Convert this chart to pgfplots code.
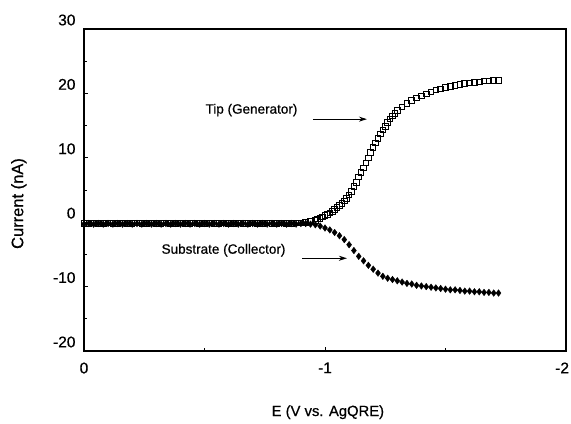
\documentclass[border=0pt]{standalone}
\usepackage{pgfplots}
\pgfplotsset{compat=1.18}
\usepackage{fontspec}
\setmainfont{Liberation Sans}
\newfontfamily\darkfont[FakeBold=0.6]{Liberation Sans}
\usetikzlibrary{arrows.meta}
\begin{document}
\begin{tikzpicture}[x=1pt,y=1pt]
\begin{axis}[
  name=ax,
  at={(0,0)}, anchor=south west,
  scale only axis, width=482pt, height=322pt,
  xmin=-2, xmax=0, x dir=reverse,
  ymin=-20, ymax=30,
  xtick={0,-1,-2}, xticklabels={0,-1,\makebox[6pt][r]{-2}},
  minor xtick={-0.5,-1.5},
  ytick={-20,-10,0,10,20,30}, minor ytick={-15,-5,5,15,25},
  tick pos=left, tick align=inside,
  major tick length=4pt, minor tick length=3pt,
  axis line style={line width=1.1pt},
  every tick/.style={line width=0.9pt, black},
  /pgf/number format/assume math mode=true,
  xticklabel style={font=\darkfont\fontsize{15.5}{18}\selectfont, yshift=-8pt},
  yticklabel style={font=\darkfont\fontsize{15.5}{18}\selectfont, xshift=-5pt, yshift=9pt},
  xlabel={E (V vs. AgQRE)},
  ylabel={Current (nA)},
  xlabel style={font=\darkfont\fontsize{14.8}{17}\selectfont, at={(axis description cs:0.506,-0.19)}, anchor=center},
  ylabel style={font=\darkfont\fontsize{16.5}{19}\selectfont, at={(axis description cs:-0.135,0.458)}, anchor=center},
  clip=false,
]
% Tip (Generator)
\addplot[only marks, mark=square, mark size=2.8pt, mark options={line width=1pt, black, fill=white}] coordinates {
(0.00,-0.2) (-0.02,-0.2) (-0.04,-0.1) (-0.06,-0.2) (-0.08,-0.2) (-0.10,-0.1) (-0.12,-0.2) (-0.14,-0.2)
(-0.16,-0.1) (-0.18,-0.2) (-0.20,-0.2) (-0.22,-0.1) (-0.24,-0.2) (-0.26,-0.2) (-0.28,-0.1) (-0.30,-0.2)
(-0.32,-0.2) (-0.34,-0.1) (-0.36,-0.2) (-0.38,-0.2) (-0.40,-0.1) (-0.42,-0.2) (-0.44,-0.2) (-0.46,-0.1)
(-0.48,-0.2) (-0.50,-0.2) (-0.52,-0.1) (-0.54,-0.2) (-0.56,-0.2) (-0.58,-0.1) (-0.60,-0.2) (-0.62,-0.2)
(-0.64,-0.1) (-0.66,-0.2) (-0.68,-0.2) (-0.70,-0.1) (-0.72,-0.2) (-0.74,-0.2) (-0.76,-0.1) (-0.78,-0.2)
(-0.80,-0.2) (-0.82,-0.1) (-0.84,-0.2) (-0.86,-0.2) (-0.88,-0.1) (-0.90,-0.1)
(-0.92,0.0) (-0.94,0.1) (-0.96,0.3) (-0.97,0.5) (-0.98,0.6) (-0.99,0.8) (-1.00,1.0) (-1.01,1.2)
(-1.02,1.4) (-1.03,1.7) (-1.04,2.0) (-1.05,2.3) (-1.06,2.6) (-1.07,2.9) (-1.08,3.3) (-1.09,3.7)
(-1.10,4.2) (-1.11,4.8) (-1.12,5.5) (-1.13,6.2) (-1.14,7.0) (-1.15,7.7) (-1.16,8.4) (-1.17,9.2)
(-1.18,10.0) (-1.19,10.8) (-1.20,11.6) (-1.21,12.3) (-1.22,13.0) (-1.23,13.7) (-1.24,14.3) (-1.25,14.9)
(-1.26,15.5) (-1.27,16.0) (-1.28,16.5) (-1.29,16.9) (-1.30,17.3) (-1.32,17.9) (-1.34,18.4) (-1.36,18.9)
(-1.38,19.3) (-1.40,19.6) (-1.42,19.9) (-1.44,20.2) (-1.46,20.5) (-1.48,20.7) (-1.50,20.9) (-1.52,21.1)
(-1.54,21.2) (-1.56,21.4) (-1.58,21.5) (-1.60,21.6) (-1.62,21.7) (-1.64,21.8) (-1.66,21.9) (-1.68,21.9)
(-1.70,22.0) (-1.72,22.0)
};
% Substrate (Collector)
\addplot[only marks, mark=diamond*, mark size=3.3pt, mark options={black, fill=black}] coordinates {
(0.00,-0.3) (-0.02,-0.2) (-0.04,-0.3) (-0.06,-0.2) (-0.08,-0.3) (-0.10,-0.2) (-0.12,-0.3) (-0.14,-0.2)
(-0.16,-0.3) (-0.18,-0.2) (-0.20,-0.3) (-0.22,-0.2) (-0.24,-0.3) (-0.26,-0.2) (-0.28,-0.3) (-0.30,-0.2)
(-0.32,-0.3) (-0.34,-0.2) (-0.36,-0.3) (-0.38,-0.2) (-0.40,-0.3) (-0.42,-0.2) (-0.44,-0.3) (-0.46,-0.2)
(-0.48,-0.3) (-0.50,-0.2) (-0.52,-0.3) (-0.54,-0.2) (-0.56,-0.3) (-0.58,-0.2) (-0.60,-0.3) (-0.62,-0.2)
(-0.64,-0.3) (-0.66,-0.2) (-0.68,-0.3) (-0.70,-0.2) (-0.72,-0.3) (-0.74,-0.2) (-0.76,-0.3) (-0.78,-0.2)
(-0.80,-0.3) (-0.82,-0.2) (-0.84,-0.3) (-0.86,-0.2) (-0.88,-0.3) (-0.90,-0.2)
(-0.92,-0.2) (-0.94,-0.3) (-0.96,-0.4) (-0.98,-0.6) (-1.00,-0.9) (-1.02,-1.2) (-1.04,-1.6) (-1.06,-2.1)
(-1.08,-2.7) (-1.10,-3.5) (-1.12,-4.4) (-1.14,-5.3) (-1.16,-6.0) (-1.18,-6.7) (-1.20,-7.3) (-1.22,-7.9)
(-1.24,-8.4) (-1.26,-8.7) (-1.28,-8.9) (-1.30,-9.1) (-1.32,-9.3) (-1.34,-9.5) (-1.36,-9.6) (-1.38,-9.8)
(-1.40,-9.9) (-1.42,-10.0) (-1.44,-10.1) (-1.46,-10.2) (-1.48,-10.3) (-1.50,-10.4) (-1.52,-10.5) (-1.54,-10.5)
(-1.56,-10.6) (-1.58,-10.7) (-1.60,-10.7) (-1.62,-10.8) (-1.64,-10.8) (-1.66,-10.9) (-1.68,-10.9) (-1.70,-11.0)
(-1.72,-11.0)
};
\node[font=\darkfont\fontsize{13.5}{16}\selectfont] at (axis cs:-0.695,17.4) {Tip (Generator)};
\draw[line width=1pt, -{Stealth[length=8pt,width=5pt]}] (axis cs:-0.95,16.0) -- (axis cs:-1.174,16.0);
\node[font=\darkfont\fontsize{13.5}{16}\selectfont] at (axis cs:-0.579,-4.35) {Substrate (Collector)};
\draw[line width=1pt, -{Stealth[length=8pt,width=5pt]}] (axis cs:-0.905,-5.6) -- (axis cs:-1.091,-5.6);
\end{axis}
\pgfresetboundingbox
\path ([xshift=-84pt,yshift=-72pt]ax.south west) rectangle ([xshift=5pt,yshift=29pt]ax.north east);
\end{tikzpicture}
\end{document}
